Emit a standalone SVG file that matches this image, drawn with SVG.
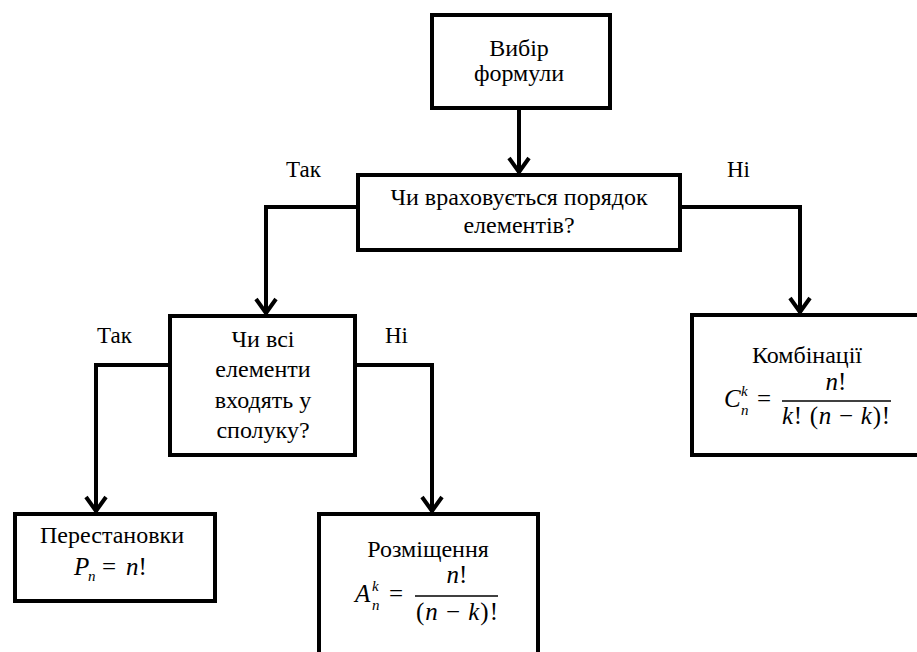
<svg xmlns="http://www.w3.org/2000/svg" width="917" height="652" viewBox="0 0 917 652">
<defs>
<style>
text{fill:#000}
.t{font-size:24px;text-anchor:middle}
.lbl{font-size:23px}
.m{font-size:25px;font-style:italic}
.mr{font-size:25px;font-style:normal}
.s{font-size:15px;font-style:italic}
.ln{fill:none;stroke:#000;stroke-width:4}
.box{fill:#fff;stroke:#000;stroke-width:4}
.frac{stroke:#000;stroke-width:1.5}
</style>
<marker id="arr" viewBox="0 0 20 24" markerWidth="20" markerHeight="24" refX="17" refY="12" orient="auto" markerUnits="userSpaceOnUse">
<path d="M2,2 L16,12 L2,22" fill="none" stroke="#000" stroke-width="4"/>
</marker>
</defs>
<rect width="917" height="652" fill="#fff"/>
<g font-family="'Liberation Serif', Tinos, 'Times New Roman', Times, 'DejaVu Serif', serif">
<g id="connectors">
<path class="ln" d="M519,110 V173" marker-end="url(#arr)"/>
<path class="ln" d="M358,207 H266 V314" marker-end="url(#arr)"/>
<path class="ln" d="M680,207 H800 V313" marker-end="url(#arr)"/>
<path class="ln" d="M170,365 H96 V512" marker-end="url(#arr)"/>
<path class="ln" d="M355,365 H432 V512" marker-end="url(#arr)"/>
<text class="lbl" x="286" y="177">Так</text>
<text class="lbl" x="727" y="177">Ні</text>
<text class="lbl" x="97" y="343">Так</text>
<text class="lbl" x="385" y="343">Ні</text>
</g>
<g id="start">
<rect class="box" x="432" y="15" width="178" height="93"/>
<text class="t" x="519" y="56">Вибір</text>
<text class="t" x="519" y="81">формули</text>
</g>
<g id="order">
<rect class="box" x="358" y="175" width="322" height="75"/>
<text class="t" x="519" y="205">Чи враховується порядок</text>
<text class="t" x="519" y="233">елементів?</text>
</g>
<g id="all">
<rect class="box" x="170" y="316" width="185" height="139"/>
<text class="t" x="263" y="347">Чи всі</text>
<text class="t" x="263" y="377">елементи</text>
<text class="t" x="263" y="408">входять у</text>
<text class="t" x="263" y="438">сполуку?</text>
</g>
<g id="combinations">
<rect class="box" x="692" y="315" width="240" height="140"/>
<text class="t" x="807" y="363">Комбінації</text>
<text class="m" x="724" y="407">C</text>
<text class="s" x="741" y="415">n</text>
<text class="s" x="741" y="396">k</text>
<text class="mr" x="757" y="407">=</text>
<line class="frac" x1="782" y1="401" x2="891" y2="401"/>
<text class="m" x="836" y="390" text-anchor="middle">n<tspan class="mr">!</tspan></text>
<text class="m" x="836" y="424" text-anchor="middle" textLength="108" lengthAdjust="spacing">k<tspan class="mr">! (</tspan>n <tspan class="mr">−</tspan> k<tspan class="mr">)!</tspan></text>
</g>
<g id="permutations">
<rect class="box" x="15" y="514" width="200" height="87"/>
<text class="t" x="112" y="543">Перестановки</text>
<text class="m" x="74" y="575">P</text>
<text class="s" x="88" y="581">n</text>
<text class="mr" x="102" y="575">=</text>
<text class="m" x="126" y="575">n<tspan class="mr">!</tspan></text>
</g>
<g id="arrangements">
<rect class="box" x="319" y="514" width="219" height="160"/>
<text class="t" x="428" y="557">Розміщення</text>
<text class="m" x="355" y="602">A</text>
<text class="s" x="372" y="610">n</text>
<text class="s" x="372" y="591">k</text>
<text class="mr" x="389" y="602">=</text>
<line class="frac" x1="415" y1="596" x2="498" y2="596"/>
<text class="m" x="457" y="583" text-anchor="middle">n<tspan class="mr">!</tspan></text>
<text class="m" x="457" y="620" text-anchor="middle" textLength="82" lengthAdjust="spacing"><tspan class="mr">(</tspan>n <tspan class="mr">−</tspan> k<tspan class="mr">)!</tspan></text>
</g>
</g>
</svg>
